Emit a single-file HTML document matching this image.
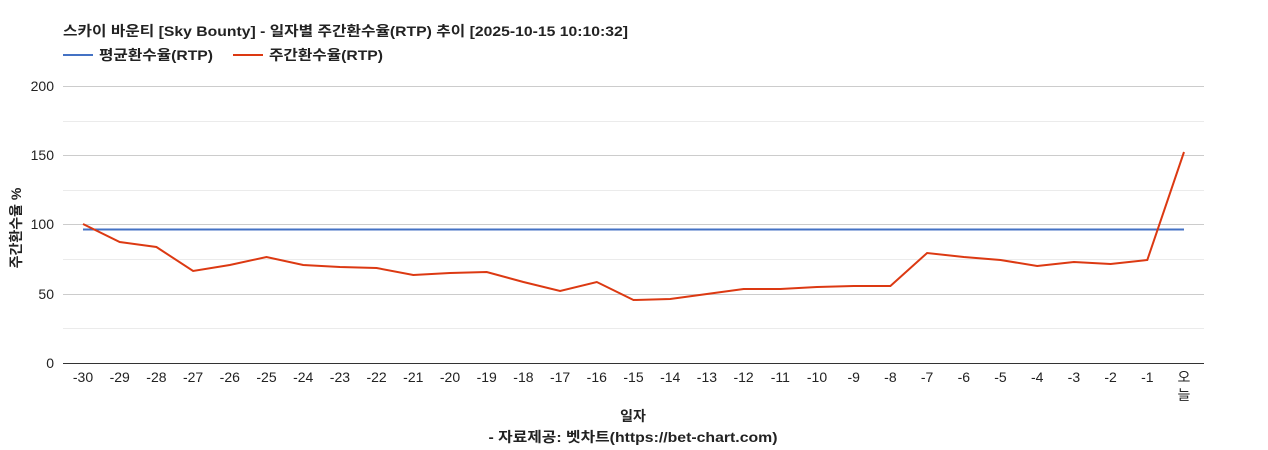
<!DOCTYPE html>
<html><head><meta charset="utf-8"><style>
body{margin:0;background:#fff;}
svg{display:block;font-family:"Liberation Sans","Noto Sans CJK KR",sans-serif;}
</style></head><body>
<svg width="1268" height="450" viewBox="0 0 1268 450">
<rect width="1268" height="450" fill="#fff"/>
<text x="63" y="36" font-size="14" font-weight="bold" fill="#222" textLength="565" lengthAdjust="spacingAndGlyphs">스카이 바운티 [Sky Bounty] - 일자별 주간환수율(RTP) 추이 [2025-10-15 10:10:32]</text>
<line x1="63" y1="55" x2="93" y2="55" stroke="#4472c4" stroke-width="2"/>
<text x="99" y="60" font-size="14" font-weight="bold" fill="#222" textLength="114" lengthAdjust="spacingAndGlyphs">평균환수율(RTP)</text>
<line x1="233" y1="55" x2="263" y2="55" stroke="#dc3912" stroke-width="2"/>
<text x="269" y="60" font-size="14" font-weight="bold" fill="#222" textLength="114" lengthAdjust="spacingAndGlyphs">주간환수율(RTP)</text>
<g stroke="#ebebeb" stroke-width="1">
<line x1="63" x2="1204" y1="121.5" y2="121.5"/><line x1="63" x2="1204" y1="190.5" y2="190.5"/>
<line x1="63" x2="1204" y1="259.5" y2="259.5"/><line x1="63" x2="1204" y1="328.5" y2="328.5"/>
</g>
<g stroke="#ccc" stroke-width="1">
<line x1="63" x2="1204" y1="86.5" y2="86.5"/><line x1="63" x2="1204" y1="155.5" y2="155.5"/>
<line x1="63" x2="1204" y1="224.5" y2="224.5"/><line x1="63" x2="1204" y1="294.5" y2="294.5"/>
</g>
<line x1="63" x2="1204" y1="363.5" y2="363.5" stroke="#333"/>
<g font-size="14" fill="#222" text-anchor="end">
<text x="54" y="91">200</text><text x="54" y="160">150</text><text x="54" y="229">100</text><text x="54" y="299">50</text><text x="54" y="368">0</text>
</g>
<text transform="translate(21,228) rotate(-90)" font-size="14" font-weight="bold" fill="#222" text-anchor="middle">주간환수율 %</text>
<g font-size="14" fill="#222" text-anchor="middle" id="xl"></g>
<text x="633" y="421" font-size="14" font-weight="bold" fill="#222" text-anchor="middle">일자</text>
<text x="633" y="442" font-size="14" font-weight="bold" fill="#222" text-anchor="middle" textLength="289" lengthAdjust="spacingAndGlyphs">- 자료제공: 벳차트(https://bet-chart.com)</text>
<line x1="83" x2="1184" y1="229.5" y2="229.5" stroke="#4472c4" stroke-width="2"/>
<polyline fill="none" stroke="#dc3912" stroke-width="2" id="red"/>
</svg>
<script>
var ys=[224,242,247,271,265,257,265,267,268,275,273,272,282,291,282,300,299,294,289,289,287,286,286,253,257,260,266,262,264,260,152];
var pts=[],g=document.getElementById('xl'),s='';
for(var i=0;i<31;i++){var x=83+i*36.7;pts.push(x.toFixed(1)+','+ys[i]);
if(i<30)s+='<text x="'+x+'" y="382">'+(i-30)+'</text>';else s+='<text x="'+x+'" y="382">오</text><text x="'+x+'" y="400">늘</text>';}
g.innerHTML=s;document.getElementById('red').setAttribute('points',pts.join(' '));
</script>
</body></html>
